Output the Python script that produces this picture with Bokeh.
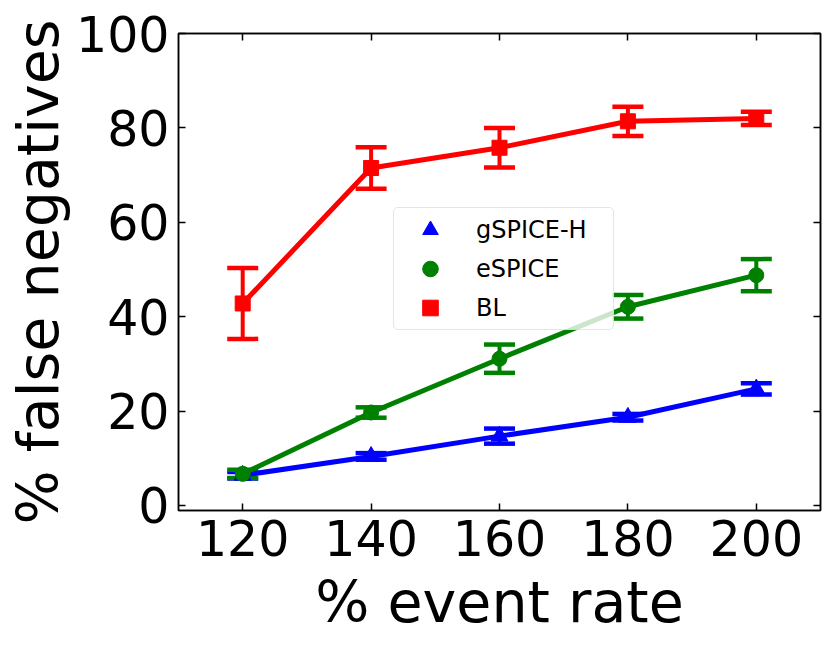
from bokeh.plotting import figure
from bokeh.models import (ColumnDataSource, Whisker, TeeHead, Legend, LegendItem,
                          LinearAxis, FixedTicker, CustomJSTickFormatter, Range1d)
from bokeh.embed import file_html
from bokeh.resources import INLINE

# ---- data ----
event_rate = [120, 140, 160, 180, 200]
x_ticks = [120, 140, 160, 180, 200]
y_ticks = [0, 20, 40, 60, 80, 100]

gspice_h = [6.4, 10.4, 14.7, 18.7, 24.7]
gspice_h_err = [0.7, 0.7, 1.6, 0.7, 1.2]

espice = [6.7, 19.7, 31.1, 42.1, 48.8]
espice_err = [0.9, 1.1, 3.0, 2.5, 3.4]

bl = [42.8, 71.5, 75.8, 81.4, 82.0]
bl_err = [7.5, 4.4, 4.2, 3.1, 1.4]

series = [
    ("gSPICE-H", gspice_h, gspice_h_err, "blue", "triangle", 17),
    ("eSPICE", espice, espice_err, "green", "circle", 15),
    ("BL", bl, bl_err, "red", "square", 15),
]

FONT = "DejaVu Sans"

p = figure(frame_width=642, frame_height=477, output_backend="svg", toolbar_location=None,
           x_range=Range1d(110, 210), y_range=Range1d(-1.06, 100),
           min_border_left=178, min_border_right=4, min_border_top=33, min_border_bottom=10)
p.grid.visible = False
p.outline_line_color = "black"
p.outline_line_width = 1.5
p.background_fill_color = "white"

items = []
for name, vals, errs, color, marker, size in series:
    src = ColumnDataSource(dict(
        x=event_rate, y=vals,
        upper=[v + e for v, e in zip(vals, errs)],
        lower=[v - e for v, e in zip(vals, errs)],
    ))
    p.line("x", "y", source=src, line_color=color, line_width=5)
    wh = Whisker(base="x", upper="upper", lower="lower", source=src,
                 line_color=color, line_width=4,
                 upper_head=TeeHead(size=31, line_color=color, line_width=4.5),
                 lower_head=TeeHead(size=31, line_color=color, line_width=4.5))
    p.add_layout(wh)
    r = p.scatter("x", "y", source=src, marker=marker, size=size,
                  fill_color=color, line_color=color)
    items.append(LegendItem(label=name, renderers=[r]))

# axes styling
for ax in (p.xaxis[0], p.yaxis[0]):
    ax.major_tick_in = 7
    ax.major_tick_out = 0
    ax.minor_tick_line_color = None
    ax.major_tick_line_width = 1.5
    ax.axis_line_width = 1.5
    ax.major_label_text_font = FONT
    ax.major_label_text_font_size = "49px"
    ax.major_label_text_color = "black"
    ax.axis_label_text_font = FONT
    ax.axis_label_text_font_size = "57px"
    ax.axis_label_text_font_style = "normal"
    ax.axis_label_text_color = "black"

p.xaxis[0].ticker = FixedTicker(ticks=x_ticks)
p.yaxis[0].ticker = FixedTicker(ticks=y_ticks)
p.xaxis[0].axis_label = "% event rate"
p.yaxis[0].axis_label = "% false negatives"
p.xaxis[0].major_label_standoff = 9
p.xaxis[0].axis_label_standoff = 10
p.yaxis[0].major_label_standoff = 9
p.yaxis[0].axis_label_standoff = 2

top = LinearAxis(ticker=FixedTicker(ticks=x_ticks), formatter=CustomJSTickFormatter(code="return ''"))
right = LinearAxis(ticker=FixedTicker(ticks=y_ticks), formatter=CustomJSTickFormatter(code="return ''"))
for ax in (top, right):
    ax.major_tick_in = 7
    ax.major_tick_out = 0
    ax.minor_tick_line_color = None
    ax.major_tick_line_width = 1.5
    ax.axis_line_width = 1.5
    ax.major_label_text_font_size = "1px"
    ax.major_label_standoff = 0
p.add_layout(top, "above")
p.add_layout(right, "right")

legend = Legend(items=items, location=(215, 180),
                label_text_font=FONT, label_text_font_size="24px",
                label_text_color="black",
                padding=2, spacing=-2, glyph_width=68, glyph_height=39,
                label_standoff=12, label_width=135, margin=0,
                border_line_color="#cccccc", border_line_width=1.5,
                border_radius=5,
                background_fill_color="white", background_fill_alpha=0.8)
p.add_layout(legend, "center")

open("out.html", "w").write(file_html(p, INLINE))
